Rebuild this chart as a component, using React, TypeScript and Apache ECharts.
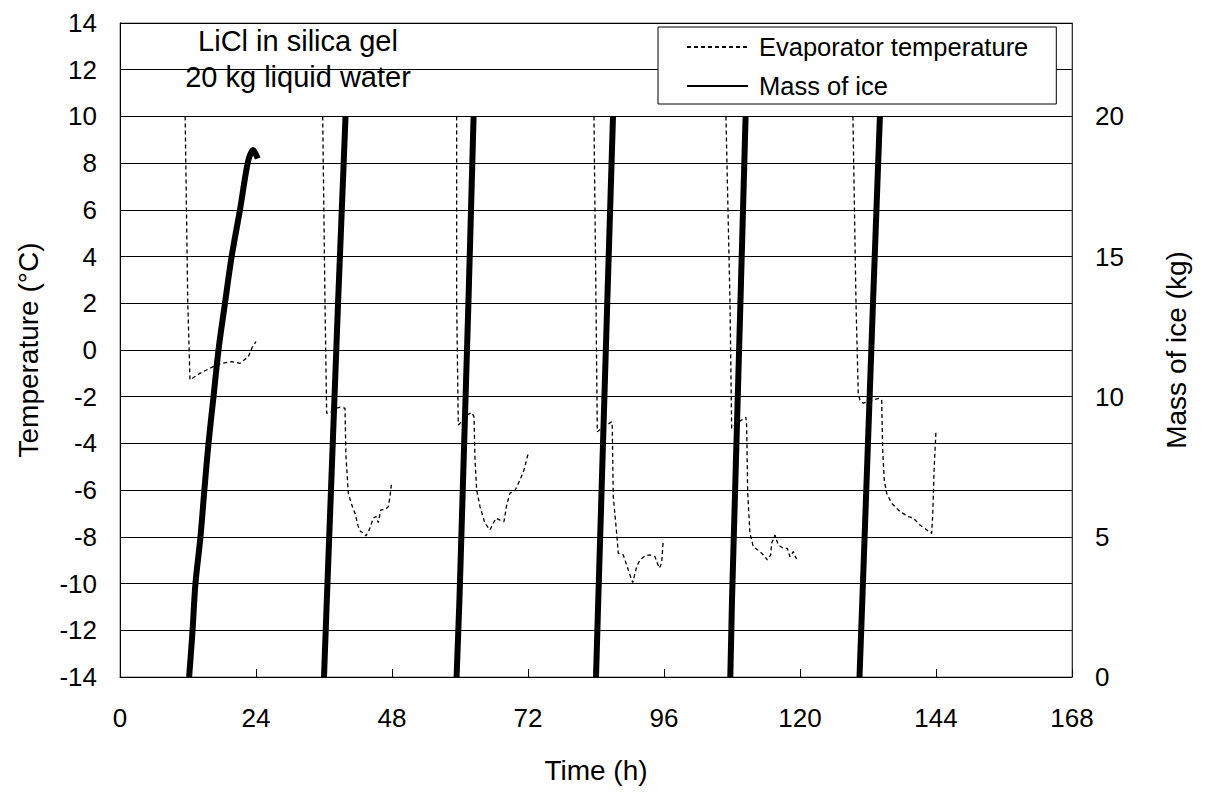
import React, { useEffect, useRef } from "react";
import * as echarts from "echarts";

// Time axis (h)
const TIME_TICKS = [0, 24, 48, 72, 96, 120, 144, 168];

// Evaporator temperature per cycle: [time h, temperature °C]
const evap1: [number, number][] = [
  [11.5, 10], [11.95, 2.14], [12.35, -1.28], [14.1, -1.0], [16.46, -0.71], [17.95, -0.57],
  [19.71, -0.5], [21.18, -0.57], [22.64, -0.29], [23.24, 0.07], [24.0, 0.36],
];
const evap2: [number, number][] = [
  [35.77, 10], [36.17, 2.14], [36.47, -2.71], [37.36, -2.64], [38.24, -2.49], [38.82, -2.45],
  [39.7, -2.49], [39.88, -4.57], [40.29, -6.13], [40.89, -6.63], [41.47, -6.99], [42.05, -7.56],
  [42.47, -7.78], [42.93, -7.82], [43.41, -7.96], [43.99, -7.7], [44.7, -7.2], [45.17, -7.13],
  [45.58, -7.39], [46.0, -6.85], [46.76, -6.82], [47.35, -6.71], [47.64, -6.28], [47.94, -5.68],
];
const evap3: [number, number][] = [
  [59.41, 10], [59.41, 2.0], [59.7, -3.21], [60.3, -3.07], [61.18, -2.78], [62.06, -2.68],
  [62.47, -2.85], [62.65, -4.71], [62.94, -5.99], [63.53, -6.71], [64.41, -7.42], [65.29, -7.7],
  [65.87, -7.42], [66.35, -7.2], [67.06, -7.28], [67.76, -7.35], [68.24, -6.63], [68.82, -6.13],
  [69.7, -6.02], [70.59, -5.56], [71.29, -5.14], [72.05, -4.42],
];
const evap4: [number, number][] = [
  [83.64, 10], [84.0, 2.0], [84.23, -3.5], [85.0, -3.35], [85.88, -3.21], [86.77, -3.07],
  [86.87, -3.28], [87.05, -6.28], [87.65, -7.85], [87.93, -8.7], [88.81, -8.77], [89.7, -9.42],
  [90.47, -9.96], [91.18, -9.27], [91.76, -8.99], [92.64, -8.82], [93.52, -8.77], [94.41, -8.85],
  [95.17, -9.34], [95.59, -9.13], [95.87, -8.13],
];
const evap5: [number, number][] = [
  [106.93, 10], [107.64, 2.14], [107.94, -3.35], [108.82, -3.14], [109.7, -3.0], [110.46, -2.88],
  [110.59, -3.28], [110.77, -6.13], [111.17, -7.85], [111.76, -8.42], [112.94, -8.63], [113.82, -8.85],
  [114.23, -8.99], [114.82, -8.77], [115.0, -8.27], [115.58, -7.92], [116.17, -8.35], [117.05, -8.49],
  [117.76, -8.49], [118.23, -8.85], [118.82, -8.63], [119.29, -8.92], [119.87, -8.82],
];
const evap6: [number, number][] = [
  [129.34, 10], [129.87, 2.14], [130.28, -1.85], [130.58, -2.14], [131.16, -2.28], [132.05, -2.21],
  [132.93, -2.14], [133.81, -2.07], [134.41, -2.14], [134.59, -4.28], [134.87, -5.56], [135.29, -6.13],
  [136.17, -6.56], [137.64, -6.92], [139.1, -7.13], [139.99, -7.2], [141.17, -7.49], [142.35, -7.7],
  [143.23, -7.85], [143.41, -7.13], [143.69, -4.99], [143.99, -3.5],
];

// Mass of ice per cycle: [time h, mass kg]
const ice1: [number, number][] = [
  [12.2, 0], [12.8, 1.65], [13.3, 3.3], [14.2, 5.0], [14.9, 6.7], [15.6, 8.3], [16.5, 10.0],
  [17.4, 11.7], [18.5, 13.3], [19.7, 15.0], [21.2, 16.7], [22.6, 18.4], [23.5, 18.8], [24.3, 18.5],
];
const ice2: [number, number][] = [[36.0, 0], [36.5, 2.75], [38.5, 13.45], [39.8, 20]];
const ice3: [number, number][] = [[59.4, 0], [59.9, 2.75], [61.5, 13.45], [62.4, 20]];
const ice4: [number, number][] = [[84.0, 0], [84.4, 2.75], [86.0, 13.45], [87.0, 20]];
const ice5: [number, number][] = [[107.7, 0], [108.0, 2.75], [109.5, 13.45], [110.4, 20]];
const ice6: [number, number][] = [[130.5, 0], [131.0, 2.75], [132.9, 13.45], [134.1, 20]];

const EVAP_CYCLES = [evap1, evap2, evap3, evap4, evap5, evap6];
const ICE_CYCLES = [ice1, ice2, ice3, ice4, ice5, ice6];

const EVAP_NAME = "Evaporator temperature";
const ICE_NAME = "Mass of ice";
const NOTE_LINES = ["LiCl in silica gel", "20 kg liquid water"];

const FONT = "'Liberation Sans', Arial, sans-serif";

export default function App() {
  const ref = useRef<HTMLDivElement>(null);

  useEffect(() => {
    document.body.style.margin = "0";
    if (!ref.current) return;
    const chart = echarts.init(ref.current, undefined, { renderer: "svg" });

    const evapSeries = EVAP_CYCLES.map((d) => ({
      name: EVAP_NAME,
      type: "line",
      yAxisIndex: 0,
      data: d,
      showSymbol: false,
      symbol: "none",
      itemStyle: { color: "#000" },
      lineStyle: { color: "#000", width: 1.3, type: [4, 3] },
      z: 3,
    }));
    const iceSeries = ICE_CYCLES.map((d, i) => ({
      name: ICE_NAME,
      type: "line",
      yAxisIndex: 1,
      data: d,
      showSymbol: false,
      symbol: "none",
      smooth: i === 0 ? 0.3 : false,
      itemStyle: { color: "#000" },
      lineStyle: { color: "#000", width: 6, type: "solid" },
      z: 4,
    }));

    chart.setOption({
      animation: false,
      backgroundColor: "#fff",
      textStyle: { fontFamily: FONT, color: "#000" },
      grid: {
        left: 120,
        right: 134,
        top: 23,
        bottom: 115,
        containLabel: false,
        show: true,
        borderColor: "#777",
        borderWidth: 1,
      },
      legend: {
        data: [EVAP_NAME, ICE_NAME],
        orient: "vertical",
        left: 658,
        top: 27,
        itemWidth: 61,
        itemHeight: 14,
        itemGap: 13,
        padding: [7, 28, 5, 28],
        backgroundColor: "#fff",
        borderColor: "#000",
        borderWidth: 1,
        itemStyle: { opacity: 0 },
        textStyle: { fontSize: 25.5, color: "#000", fontFamily: FONT, padding: [0, 0, 0, 6] },
        selectedMode: false,
      },
      xAxis: {
        type: "value",
        min: TIME_TICKS[0],
        max: TIME_TICKS[TIME_TICKS.length - 1],
        interval: 24,
        name: "Time (h)",
        nameLocation: "middle",
        nameGap: 79,
        nameTextStyle: { fontSize: 28, color: "#000", fontFamily: FONT },
        axisLine: { show: true, onZero: false, lineStyle: { color: "#000", width: 1 } },
        axisTick: { show: true, inside: true, length: 8, lineStyle: { color: "#000", width: 1 } },
        axisLabel: { fontSize: 26, color: "#000", margin: 28, fontFamily: FONT },
        splitLine: { show: false },
      },
      yAxis: [
        {
          type: "value",
          min: -14,
          max: 14,
          interval: 2,
          position: "left",
          name: "Temperature (°C)",
          nameLocation: "middle",
          nameRotate: 90,
          nameGap: 78,
          nameTextStyle: { fontSize: 28, color: "#000", fontFamily: FONT },
          axisLine: { show: true, onZero: false, lineStyle: { color: "#000", width: 1 } },
          axisTick: { show: true, inside: true, length: 10, lineStyle: { color: "#000" } },
          axisLabel: { fontSize: 26, color: "#000", margin: 23, fontFamily: FONT },
          splitLine: { show: true, lineStyle: { color: "#000", width: 1 } },
        },
        {
          type: "value",
          min: 0,
          max: 70 / 3,
          interval: 5,
          position: "right",
          name: "Mass of ice (kg)",
          nameLocation: "middle",
          nameRotate: 90,
          nameGap: 90,
          nameTextStyle: { fontSize: 28, color: "#000", fontFamily: FONT },
          axisLine: { show: true, onZero: false, lineStyle: { color: "#333", width: 1 } },
          axisTick: { show: false },
          axisLabel: {
            fontSize: 26,
            color: "#000",
            margin: 23,
            fontFamily: FONT,
            formatter: (v: number) => (Math.abs(v % 5) < 1e-6 ? String(v) : ""),
          },
          splitLine: { show: false },
        },
      ],
      graphic: NOTE_LINES.map((t, i) => ({
        type: "text",
        x: 298,
        y: 41 + i * 36,
        z: 10,
        style: {
          text: t,
          fontSize: 29,
          fontFamily: FONT,
          fill: "#000",
          align: "center",
          verticalAlign: "middle",
        },
      })),
      series: [...evapSeries, ...iceSeries],
    });

    return () => chart.dispose();
  }, []);

  return <div ref={ref} style={{ width: 1206, height: 792 }} />;
}
